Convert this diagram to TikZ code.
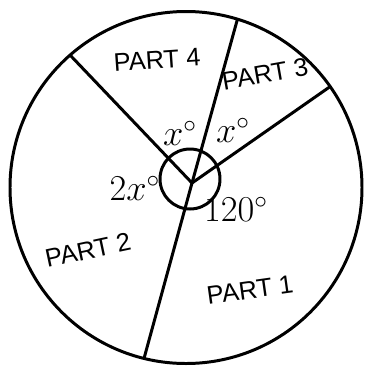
\documentclass[tikz,border=0pt]{standalone}
\usepackage{amsmath,amssymb}
\usepackage{fontspec}
\setmainfont{Liberation Sans}
\usetikzlibrary{calc,positioning}
\tikzset{
  line cap=round,
  line join=round,
  every picture/.style={line width=1.7pt},
  partlabel/.style={font=\fontsize{14.5}{14.5}\selectfont, inner sep=0pt},
  anglelabel/.style={font=\fontsize{20}{20}\selectfont, inner sep=0pt}
}
\begin{document}
\begin{tikzpicture}
\useasboundingbox (-3.72,-3.57) rectangle (3.70,3.75);

% 외부 원
\draw (0,0) circle (3.52);

% 중심과 경계점
\coordinate (J) at (0.12,0.09);
\coordinate (P34) at (73:3.52);
\coordinate (P42) at (131.2:3.52);
\coordinate (P31) at (35:3.52);
\coordinate (P21) at (256.2:3.52);

% 반지름
\draw (J) -- (P34);
\draw (J) -- (P42);
\draw (J) -- (P31);
\draw (J) -- (P21);

% 각 표시
\draw (0.08,0.17) circle (0.6);

% 부분 이름
\node[partlabel, rotate=4] (part4) at (-0.58,2.55) {PART 4};
\node[partlabel, rotate=10] (part3) at (1.58,2.27) {PART 3};
\node[partlabel, rotate=12] (part2) at (-1.96,-1.25) {PART 2};
\node[partlabel, rotate=8] (part1) at (1.28,-2.05) {PART 1};

% 각의 크기
\node[anglelabel] (ang4) at (-0.12,1.09) {$x^\circ$};
\node[anglelabel] (ang3) at (0.94,1.15) {$x^\circ$};
\node[anglelabel] (ang2) at (-1.02,-0.01) {$2x^\circ$};
\node[anglelabel] (ang1) at (1.0,-0.43) {$120^\circ$};

\end{tikzpicture}
\end{document}
